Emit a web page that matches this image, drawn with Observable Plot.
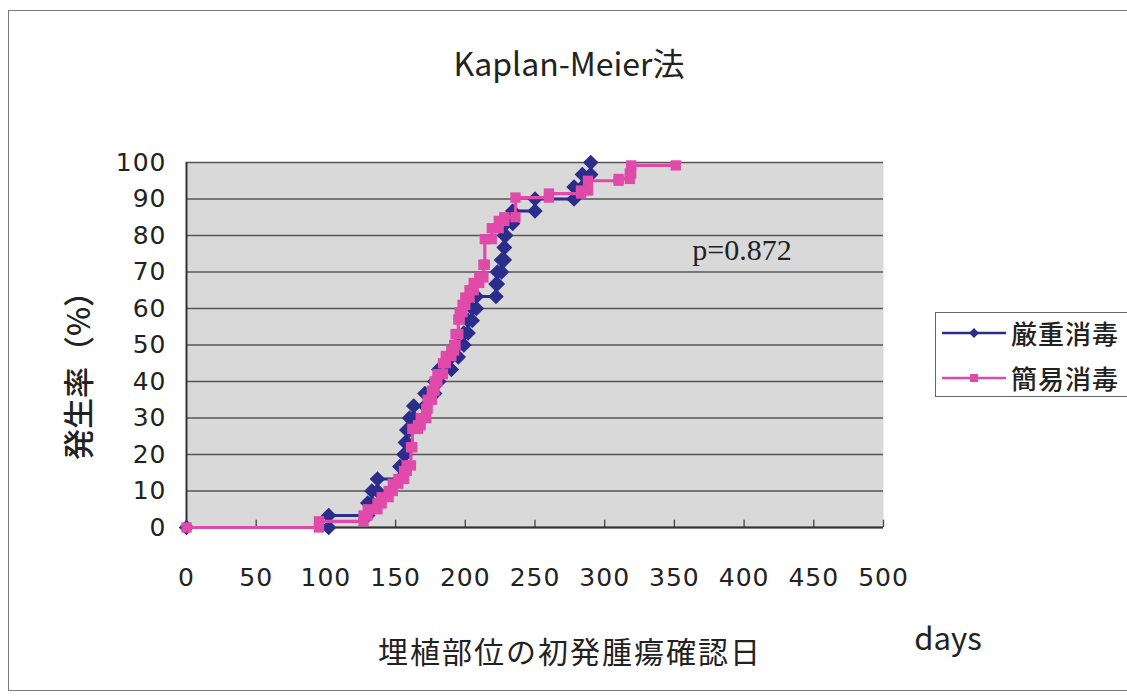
<!DOCTYPE html>
<html>
<head>
<meta charset="utf-8">
<script src="https://cdn.jsdelivr.net/npm/d3@7"></script>
<script src="https://cdn.jsdelivr.net/npm/@observablehq/plot@0.6"></script>
<style>
  body { margin: 0; background: #fff; }
  #wrap { position: relative; width: 1127px; height: 697px; overflow: hidden;
          font-family: "Noto Sans CJK JP", "Noto Sans", sans-serif; color: #222; }
  #border { position: absolute; left: 8px; top: 10px; width: 1140px; height: 681px;
            border: 1.5px solid #7a7a7a; box-sizing: border-box; }
  #chart { position: absolute; left: 0; top: 0; }
  .t { position: absolute; white-space: nowrap; transform: translate(-50%, -50%); line-height: 1; }
  #legend { position: absolute; left: 935px; top: 312px; width: 210px; height: 85px;
            border: 1.5px solid #666; box-sizing: border-box; background: #fff; }
  .row { position: absolute; left: 6px; display: flex; align-items: center; }
  .row span { font-size: 26px; letter-spacing: 1px; margin-left: 5px; font-weight: 500; }
</style>
</head>
<body>
<div id="wrap">
  <div id="border"></div>
  <div id="chart"></div>
  <div class="t" style="left:569px;top:62px;font-size:32px;">Kaplan-Meier法</div>
  <div class="t" style="left:76px;top:368px;font-size:31px;font-weight:500;transform:translate(-50%,-50%) rotate(-90deg);">発生率（%）</div>
  <div class="t" style="left:570px;top:650px;font-size:30px;letter-spacing:2px;">埋植部位の初発腫瘍確認日</div>
  <div class="t" style="left:948px;top:636px;font-size:31px;">days</div>
  <div class="t" style="left:742px;top:250px;font-size:30px;font-family:'Liberation Serif',serif;">p=0.872</div>
  <div id="legend"></div>
</div>
<script>
// Kaplan-Meier cumulative incidence: event day and cumulative percent after each event
const strictDays = [102, 130, 133, 137, 153, 156, 157, 158, 160, 163, 171, 178, 181, 190, 195,
                    199, 202, 205, 208, 222, 223, 226, 228, 228, 229, 234, 250, 278, 284, 290];
const strictPct  = [3.3, 6.7, 10, 13.3, 16.7, 20, 23.3, 26.7, 30, 33.3, 36.7, 40, 43.3, 46.7, 50,
                    53.3, 56.7, 60, 63.3, 66.7, 70, 73.3, 76.7, 80, 83.3, 86.7, 90, 93.3, 96.7, 100];

const simpleDays = [95, 127, 130, 137, 140, 145, 148, 152, 156, 158, 161, 162, 166, 168, 172, 173,
                    176, 178, 180, 184, 186, 190, 192, 193, 195, 196, 198, 200, 203, 206, 210, 213,
                    214, 219, 224, 228, 236, 260, 283, 288, 310, 318, 319];
const simplePct  = [1.7, 3.3, 5, 6.6, 8.3, 10, 12, 13.3, 15.5, 17, 22, 27, 28, 30, 32.5, 35,
                    37.5, 40, 42, 45, 47, 48.5, 50, 53, 57, 59, 61, 63, 65, 67, 68.5, 72,
                    79, 82, 84, 85, 90.4, 91.5, 92.3, 95, 95.5, 97, 99.2];
const simpleLastDay = 351;   // last follow-up (censored)

const seriesNames = ["厳重消毒", "簡易消毒"];
const seriesColors = ["#2b2d8a", "#e04aa9"];

const xTicks = d3.range(0, 501, 50);
const yTicks = d3.range(0, 101, 10);

// Step-function vertices: horizontal run to the event day, then the vertical jump
function steps(days, pct, lastDay) {
  const pts = [{day: 0, pct: 0}];
  let prev = 0;
  days.forEach((d, i) => {
    pts.push({day: d, pct: prev});
    pts.push({day: d, pct: pct[i]});
    prev = pct[i];
  });
  if (lastDay != null) pts.push({day: lastDay, pct: prev});
  return pts;
}
const strict = steps(strictDays, strictPct);
const simple = steps(simpleDays, simplePct, simpleLastDay);

const chart = Plot.plot({
  width: 1127,
  height: 697,
  marginTop: 162,
  marginBottom: 170,
  marginLeft: 186,
  marginRight: 244,
  style: { background: "transparent", fontFamily: "DejaVu Sans, sans-serif", fontSize: "25px", color: "#222" },
  x: { domain: [0, 500], ticks: xTicks, tickSize: 0, tickPadding: 41, label: null },
  y: { domain: [0, 100], ticks: yTicks, tickSize: 0, tickPadding: 20, label: null },
  marks: [
    Plot.frame({ fill: "#d9d9da", stroke: null }),
    Plot.ruleY(yTicks, { stroke: "#555", strokeWidth: 1.3 }),
    Plot.ruleX(xTicks.slice(1), { y1: 0, y2: 2, stroke: "#444", strokeWidth: 1.3 }),
    Plot.ruleX([0], { stroke: "#333", strokeWidth: 2 }),
    Plot.ruleY([0], { stroke: "#333", strokeWidth: 2 }),
    Plot.line(strict, { x: "day", y: "pct", stroke: seriesColors[0], strokeWidth: 3, curve: "linear" }),
    Plot.dot(strict, { x: "day", y: "pct", symbol: "diamond2", r: 7, fill: seriesColors[0], stroke: null }),
    Plot.line(simple, { x: "day", y: "pct", stroke: seriesColors[1], strokeWidth: 3.2, curve: "linear" }),
    Plot.dot(simple, { x: "day", y: "pct", symbol: "square", r: 5.8, fill: seriesColors[1], stroke: null })
  ]
});
// slightly wider tick numerals
chart.querySelectorAll("[aria-label='x-axis tick label'] text, [aria-label='y-axis tick label'] text")
  .forEach(t => t.setAttribute("letter-spacing", "1"));
document.getElementById("chart").appendChild(chart);

// Legend: line with marker, then series name
const legend = document.getElementById("legend");
seriesNames.forEach((name, i) => {
  const row = document.createElement("div");
  row.className = "row";
  row.style.top = (i === 0 ? 1 : 46) + "px";
  const ns = "http://www.w3.org/2000/svg";
  const svg = document.createElementNS(ns, "svg");
  svg.setAttribute("width", 64);
  svg.setAttribute("height", 30);
  const line = document.createElementNS(ns, "line");
  line.setAttribute("x1", 0); line.setAttribute("x2", 64);
  line.setAttribute("y1", 15); line.setAttribute("y2", 15);
  line.setAttribute("stroke", seriesColors[i]); line.setAttribute("stroke-width", 2.5);
  svg.appendChild(line);
  const m = document.createElementNS(ns, "path");
  m.setAttribute("d", i === 0 ? "M32,10L37,15L32,20L27,15Z" : "M28,11H36V19H28Z");
  m.setAttribute("fill", seriesColors[i]);
  svg.appendChild(m);
  row.appendChild(svg);
  const label = document.createElement("span");
  label.textContent = name;
  row.appendChild(label);
  legend.appendChild(row);
});
</script>
</body>
</html>
